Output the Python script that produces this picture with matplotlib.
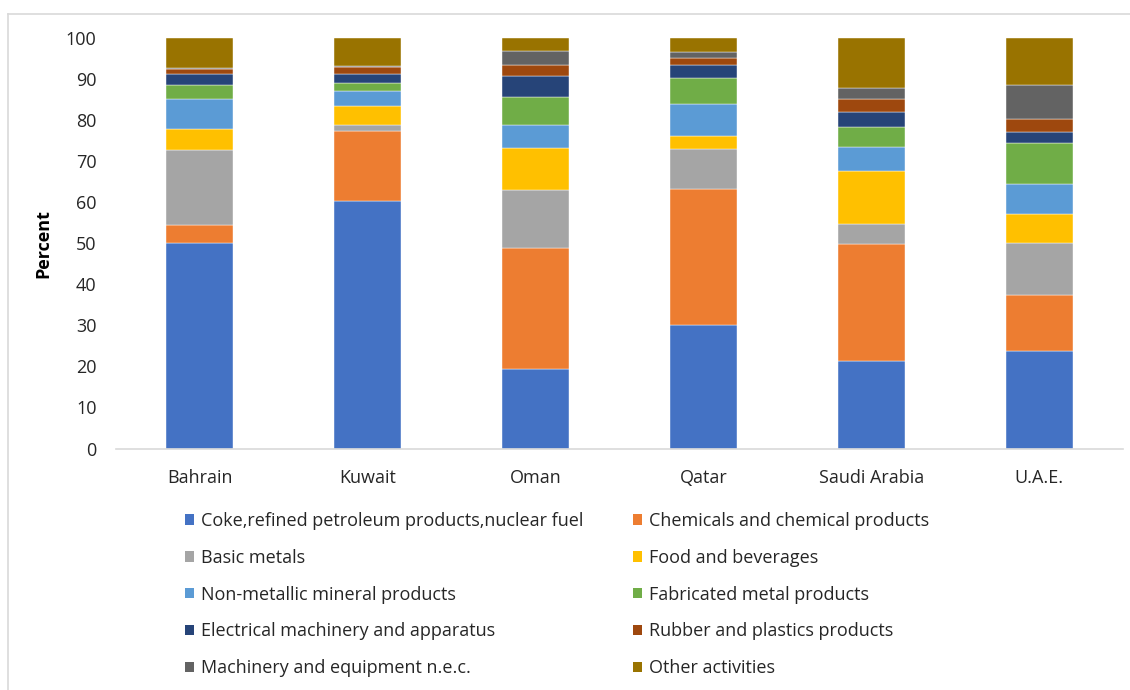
import matplotlib
matplotlib.use("Agg")
import matplotlib.pyplot as plt
from matplotlib.lines import Line2D
from matplotlib.patches import Patch
import numpy as np

# ── Data (percent share of manufacturing value added) ─────────────────────────
countries = ["Bahrain", "Kuwait", "Oman", "Qatar", "Saudi Arabia", "U.A.E."]

sectors = [
    "Coke,refined petroleum products,nuclear fuel",
    "Chemicals and chemical products",
    "Basic metals",
    "Food and beverages",
    "Non-metallic mineral products",
    "Fabricated metal products",
    "Electrical machinery and apparatus",
    "Rubber and plastics products",
    "Machinery and equipment n.e.c.",
    "Other activities",
]

coke         = [50.0, 60.3, 19.5, 30.0, 21.3, 23.7]
chemicals    = [4.5, 17.2, 29.5, 33.3, 28.5, 13.6]
basic_metals = [18.2, 1.4, 14.0, 9.8, 4.9, 12.7]
food         = [5.2, 4.7, 10.2, 3.1, 13.0, 7.2]
non_metallic = [7.3, 3.5, 5.6, 7.9, 5.9, 7.4]
fabricated   = [3.4, 2.1, 6.9, 6.3, 4.7, 9.8]
electrical   = [2.8, 2.2, 5.0, 3.0, 3.7, 2.8]
rubber       = [1.0, 1.5, 2.7, 1.7, 3.1, 3.1]
machinery    = [0.4, 0.4, 3.4, 1.5, 2.9, 8.2]
other        = [7.2, 6.7, 3.2, 3.4, 12.0, 11.6]

series = [coke, chemicals, basic_metals, food, non_metallic,
          fabricated, electrical, rubber, machinery, other]

colours = ["#4472C4", "#ED7D31", "#A5A5A5", "#FFC000", "#5B9BD5",
           "#70AD47", "#264478", "#9E480E", "#636363", "#997300"]

plt.rcParams["font.family"] = ["Open Sans", "DejaVu Sans"]
FS = 13

fig = plt.figure(figsize=(11.3, 6.9), dpi=100)
ax = fig.add_axes([116 / 1130, 1 - 448.5 / 690, 1007 / 1130, 410.2 / 690])

x = np.arange(len(countries))
bottom = np.zeros(len(countries))
for vals, col, name in zip(series, colours, sectors):
    ax.bar(x, vals, width=0.4, bottom=bottom, color=col, label=name,
           edgecolor="white", linewidth=0.3)
    bottom += np.array(vals)

ax.set_xlim(-0.5, len(countries) - 0.5)
ax.set_ylim(0, 100)
ax.set_yticks(range(0, 101, 10))
ax.set_xticks(x)
ax.set_xticklabels(countries, fontsize=FS, color="#262626")
ax.tick_params(axis="y", length=0, pad=14, labelsize=FS, labelcolor="#262626")
ax.tick_params(axis="x", length=0, pad=15)
ax.set_ylabel("Percent", fontsize=FS, fontweight="bold", labelpad=10)

for side in ["top", "right", "left"]:
    ax.spines[side].set_visible(False)
ax.spines["bottom"].set_color("#D9D9D9")
ax.spines["bottom"].set_linewidth(1.2)

# legend laid out row-wise like the original: two single-column legends
handles = [Patch(facecolor=c, edgecolor="none") for c in colours]
for col, xpos in [(0, 185 / 1130), (1, 633 / 1130)]:
    leg = fig.legend(handles[col::2], sectors[col::2],
                     loc="upper left", bbox_to_anchor=(xpos, 1 - 512 / 690),
                     frameon=False, fontsize=FS, handlelength=0.5,
                     handleheight=0.5, handletextpad=0.4, labelspacing=1.04,
                     borderaxespad=0, borderpad=0)
    for t in leg.get_texts():
        t.set_color("#262626")

# light chart-area frame (top and left edges visible in the crop)
fig.add_artist(Line2D([8 / 1130, 1], [1 - 14 / 690] * 2, color="#D9D9D9", lw=1.2))
fig.add_artist(Line2D([8 / 1130] * 2, [0, 1 - 14 / 690], color="#D9D9D9", lw=1.2))

fig.savefig("out.png", dpi=100)
